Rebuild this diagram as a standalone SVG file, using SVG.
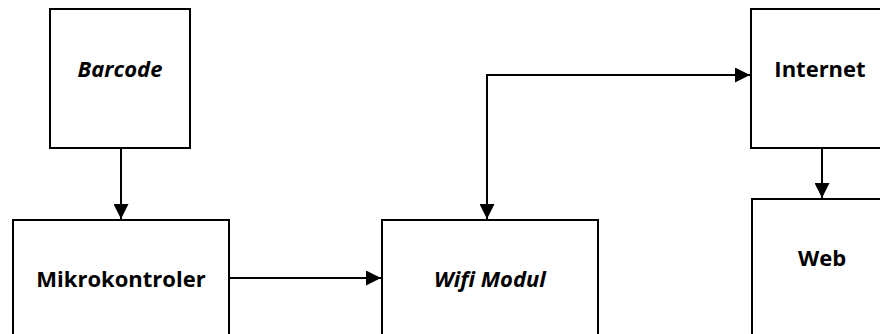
<svg xmlns="http://www.w3.org/2000/svg" width="880" height="334" viewBox="0 0 880 334">
<style>
.box{fill:#fff;stroke:#000;stroke-width:2}
.lbl{font-family:"Open Sans","Liberation Sans",sans-serif;font-weight:bold;font-size:22px;text-anchor:middle;fill:#000}
.it{font-style:italic}
.conn{fill:none;stroke:#000;stroke-width:2}
</style>
<defs>
<marker id="ah" viewBox="0 0 10 10" refX="10" refY="5" markerWidth="15" markerHeight="15" orient="auto-start-reverse" markerUnits="userSpaceOnUse">
<path d="M0,0 L10,5 L0,10 Z" fill="#000"/>
</marker>
</defs>
<rect width="880" height="334" fill="#fff"/>
<g id="barcode"><rect class="box" x="50" y="9" width="140" height="139"/><text class="lbl it" x="120" y="77">Barcode</text></g>
<g id="mikrokontroler"><rect class="box" x="13" y="220" width="216" height="130"/><text class="lbl" x="121" y="287">Mikrokontroler</text></g>
<g id="wifi"><rect class="box" x="382" y="220" width="216" height="130"/><text class="lbl it" x="490" y="287">Wifi Modul</text></g>
<g id="internet"><rect class="box" x="751" y="9" width="140" height="139"/><text class="lbl" x="820" y="77">Internet</text></g>
<g id="web"><rect class="box" x="752" y="199" width="140" height="150"/><text class="lbl" x="822" y="266">Web</text></g>
<g id="connectors">
<line class="conn" x1="121" y1="148" x2="121" y2="219" marker-end="url(#ah)"/>
<line class="conn" x1="229" y1="278" x2="381" y2="278" marker-end="url(#ah)"/>
<polyline class="conn" points="487,219 487,75 750,75" marker-start="url(#ah)" marker-end="url(#ah)"/>
<line class="conn" x1="822" y1="148" x2="822" y2="198" marker-end="url(#ah)"/>
</g>
</svg>
